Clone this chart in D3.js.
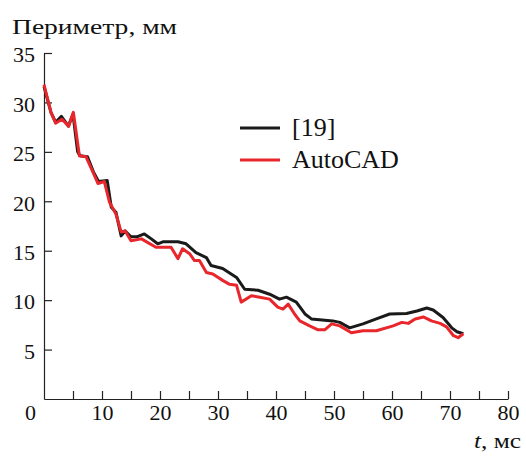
<!DOCTYPE html>
<html>
<head>
<meta charset="utf-8">
<script src="https://cdn.jsdelivr.net/npm/d3@7"></script>
<style>
  body { margin: 0; background: #fff; }
  svg text { font-family: 'Liberation Serif', 'Times New Roman', Times, 'DejaVu Serif', serif; }
</style>
</head>
<body>
<svg id="chart"></svg>
<script>
// Data
const refT = [0, 1.2, 2, 3, 4.2, 5, 5.8, 6.2, 7.5, 8.5, 9.4, 10.9, 11.6, 12.4, 13.3, 14, 15, 16, 17.3, 18.5, 19.6, 20.5, 23.1, 24.5, 26.2, 28, 28.8, 30.8, 33.2, 34.6, 36.9, 38.9, 40.6, 41.8, 43.5, 45, 46.1, 49.8, 51, 52.7, 55, 57.3, 59.6, 62.5, 64.3, 66, 67.1, 68.8, 70.3, 71.2, 72.3];
const refV = [31.6, 29, 28, 28.6, 27.6, 28.8, 25, 24.6, 24.5, 23, 22, 22.1, 19.4, 18.9, 16.5, 17, 16.4, 16.4, 16.7, 16.2, 15.7, 15.9, 15.9, 15.7, 14.8, 14.3, 13.5, 13.2, 12.3, 11.1, 11, 10.6, 10.1, 10.3, 9.8, 8.6, 8.1, 7.9, 7.75, 7.2, 7.6, 8.1, 8.6, 8.65, 8.9, 9.2, 9.0, 8.25, 7.2, 6.8, 6.6];

const cadT = [0, 1.2, 2, 3.1, 4.25, 5.06, 6.1, 7.25, 8.4, 9.3, 10.4, 11.3, 12.4, 13.3, 14, 15, 16.8, 19.3, 21.9, 23.1, 23.9, 25.1, 25.95, 26.8, 28, 29.1, 30.8, 32, 33.2, 34, 35.75, 37.2, 38.9, 40.3, 41.2, 42.1, 43.2, 44.1, 45.8, 47.25, 48.4, 49.6, 51, 53, 55, 57.3, 60.2, 61.7, 62.8, 64, 65.4, 66.8, 68.3, 69.4, 70.6, 71.4, 72.3];
const cadV = [31.8, 29, 27.9, 28.3, 27.6, 29, 24.6, 24.5, 23, 21.8, 22, 19.9, 18.7, 16.9, 17, 16, 16.2, 15.35, 15.35, 14.2, 15.2, 14.7, 14, 14, 12.8, 12.65, 12, 11.6, 11.5, 9.8, 10.45, 10.3, 10.1, 9.3, 9.1, 9.6, 8.6, 7.9, 7.4, 7, 7, 7.6, 7.4, 6.7, 6.9, 6.9, 7.4, 7.75, 7.65, 8.1, 8.3, 7.9, 7.65, 7.3, 6.4, 6.2, 6.6];

const xTicks = [0, 5, 10, 15, 20, 25, 30, 35, 40, 45, 50, 55, 60, 65, 70, 75, 80];
const yTicks = [5, 10, 15, 20, 25, 30, 35];

const seriesNames = ["[19]", "AutoCAD"];
const seriesColors = ["#1a1a1a", "#e8262c"];

const serif = "'Liberation Serif', 'Times New Roman', Times, 'DejaVu Serif', serif";

const width = 526, height = 456;
const margin = {top: 53, bottom: 57, left: 44, right: 18};

const svg = d3.select("#chart")
    .attr("width", width)
    .attr("height", height)
    .style("font-family", serif);

const x = d3.scaleLinear()
    .domain([0, 80])
    .range([margin.left, width - margin.right]);

const y = d3.scaleLinear()
    .domain([0, 35])
    .range([height - margin.bottom, margin.top]);

// x axis, ticks pointing inward
const xAxis = svg.append("g")
    .attr("transform", `translate(0,${height - margin.bottom})`)
    .call(d3.axisBottom(x)
        .tickValues(xTicks)
        .tickSizeInner(-8)
        .tickSizeOuter(0)
        .tickPadding(5)
        .tickFormat(d => d % 10 === 0 ? d : ""));

xAxis.attr("font-family", null).attr("font-size", null);
xAxis.selectAll("text")
    .style("font-family", serif)
    .style("font-size", "22px")
    .attr("fill", "#111");
// the corner "0" sits left of the axis
xAxis.selectAll(".tick").filter(d => d === 0).select("text").attr("x", -14);
xAxis.selectAll(".tick").filter(d => d === 0).select("line").remove();

// y axis
const yAxis = svg.append("g")
    .attr("transform", `translate(${margin.left},0)`)
    .call(d3.axisLeft(y)
        .tickValues(yTicks)
        .tickSizeInner(-8)
        .tickSizeOuter(0)
        .tickPadding(9));

yAxis.attr("font-family", null).attr("font-size", null);
yAxis.selectAll("text")
    .style("font-family", serif)
    .style("font-size", "22px")
    .attr("dy", "0.4em")
    .attr("fill", "#111");

svg.selectAll(".domain, .tick line")
    .attr("stroke", "#222")
    .attr("stroke-width", 1.2);

// lines
const line = d3.line()
    .x(d => x(d[0]))
    .y(d => y(d[1]));

const refData = refT.map((t, i) => [t, refV[i]]);
const cadData = cadT.map((t, i) => [t, cadV[i]]);

svg.append("path")
    .datum(refData)
    .attr("fill", "none")
    .attr("stroke", seriesColors[0])
    .attr("stroke-width", 3)
    .attr("stroke-linejoin", "round")
    .attr("d", line);

svg.append("path")
    .datum(cadData)
    .attr("fill", "none")
    .attr("stroke", seriesColors[1])
    .attr("stroke-width", 3)
    .attr("stroke-linejoin", "round")
    .attr("d", line);

// legend
const legend = svg.selectAll(".legend")
    .data(seriesNames)
    .enter().append("g")
    .attr("class", "legend")
    .attr("transform", (d, i) => `translate(240, ${128 + i * 32})`);

legend.append("line")
    .attr("x1", 0)
    .attr("x2", 40)
    .attr("stroke", (d, i) => seriesColors[i])
    .attr("stroke-width", 3);

legend.append("text")
    .attr("x", 52)
    .attr("y", 8)
    .style("font-size", "26px")
    .attr("fill", "#111")
    .text(d => d);

// axis titles (the original Cyrillic face is wider, so stretch a little)
svg.append("text")
    .attr("x", 12)
    .attr("y", 34)
    .style("font-size", "22px")
    .attr("textLength", 165)
    .attr("lengthAdjust", "spacingAndGlyphs")
    .attr("fill", "#111")
    .text("Периметр, мм");

const xLabel = svg.append("text")
    .attr("x", 474)
    .attr("y", 448)
    .style("font-size", "22px")
    .attr("textLength", 47)
    .attr("lengthAdjust", "spacingAndGlyphs")
    .attr("fill", "#111");
xLabel.append("tspan").style("font-style", "italic").text("t");
xLabel.append("tspan").text(", мс");
</script>
</body>
</html>
